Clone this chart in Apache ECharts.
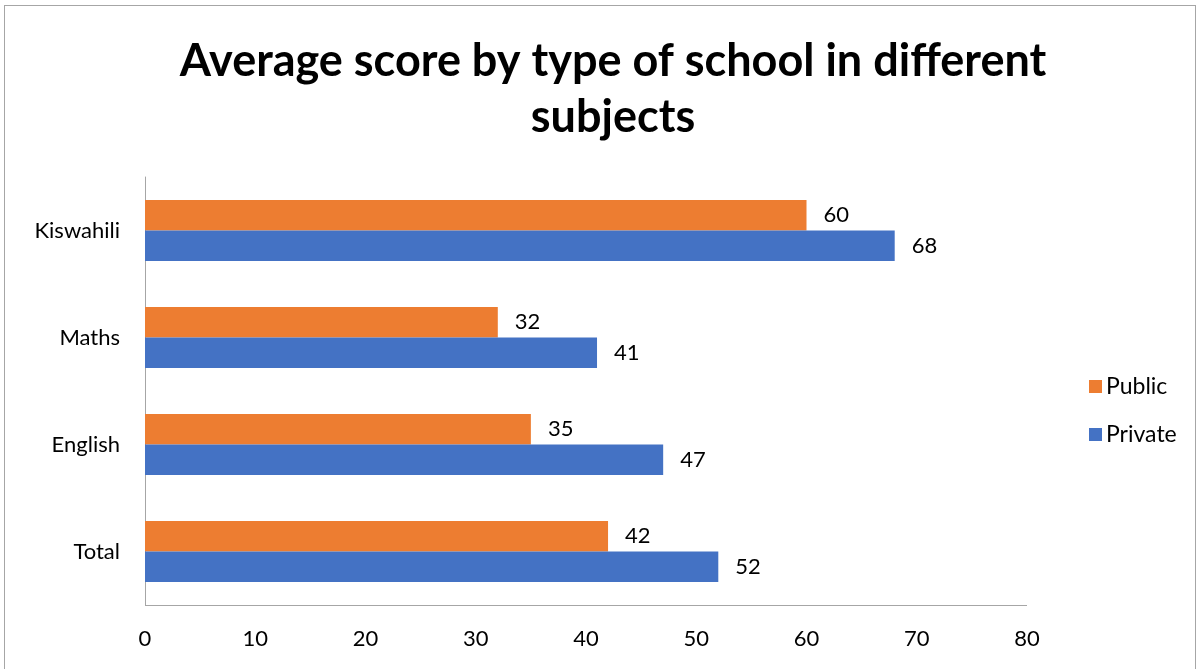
<!DOCTYPE html>
<html>
<head>
<meta charset="utf-8">
<script src="https://cdn.jsdelivr.net/npm/echarts@6/dist/echarts.min.js"></script>
<style>
  html, body { margin: 0; padding: 0; background: #fff; }
  #frame { position: absolute; left: 4px; top: 5px; width: 1192px; height: 680px; border: 1px solid #a6a6a6; box-sizing: border-box; }
  #chart { position: absolute; left: 0; top: 0; width: 1201px; height: 669px; }
</style>
</head>
<body>
<div id="frame"></div>
<div id="chart"></div>
<script>
// Subjects, listed bottom to top along the category axis
const subjects = ['Total', 'English', 'Maths', 'Kiswahili'];
// Average scores per school type
const publicScores = [42, 35, 32, 60];
const privateScores = [52, 47, 41, 68];
// Value axis ticks
const xMin = 0, xMax = 80, xStep = 10;

const FONT = 'Lato, "Open Sans", sans-serif';
const chart = echarts.init(document.getElementById('chart'), null, { renderer: 'canvas' });

const labelStyle = {
  show: true,
  position: 'right',
  distance: 17,
  color: '#000',
  fontSize: 22,
  fontFamily: FONT
};

chart.setOption({
  animation: false,
  backgroundColor: 'transparent',
  title: {
    text: 'Average score by type of school in different\nsubjects',
    left: 608,
    textAlign: 'center',
    top: 28,
    textStyle: { fontFamily: FONT, fontWeight: 'bold', fontSize: 45, lineHeight: 56, color: '#000' }
  },
  legend: {
    orient: 'vertical',
    left: 1084,
    top: 370,
    itemWidth: 13,
    itemHeight: 13,
    itemGap: 25,
    icon: 'rect',
    data: ['Public', 'Private'],
    textStyle: { fontFamily: FONT, fontSize: 23, color: '#000', padding: [0, 0, 0, -1] }
  },
  grid: { left: 145, right: 174, top: 177, bottom: 64, containLabel: false },
  xAxis: {
    type: 'value',
    min: xMin,
    max: xMax,
    interval: xStep,
    splitLine: { show: false },
    axisLine: { show: false },
    axisTick: { show: false },
    axisLabel: { fontFamily: FONT, fontSize: 22, color: '#000', margin: 23 }
  },
  yAxis: {
    type: 'category',
    data: subjects,
    axisLine: { show: true, lineStyle: { color: '#a6a6a6', width: 1 } },
    axisTick: { show: false },
    axisLabel: { fontFamily: FONT, fontSize: 22, color: '#000', margin: 25 }
  },
  graphic: [{
    type: 'line',
    shape: { x1: 145, y1: 605.5, x2: 1027, y2: 605.5 },
    style: { stroke: '#a6a6a6', lineWidth: 1 },
    silent: true
  }],
  series: [
    {
      name: 'Public',
      type: 'bar',
      data: publicScores,
      itemStyle: { color: '#ed7d31' },
      barGap: '0%',
      barCategoryGap: '43%',
      label: labelStyle
    },
    {
      name: 'Private',
      type: 'bar',
      data: privateScores,
      itemStyle: { color: '#4472c4' },
      barGap: '0%',
      barCategoryGap: '43%',
      label: labelStyle
    }
  ]
});
</script>
</body>
</html>
